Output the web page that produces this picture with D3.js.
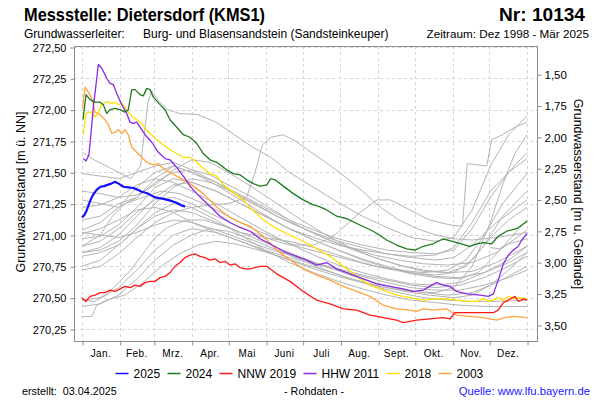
<!DOCTYPE html>
<html><head><meta charset="utf-8">
<script src="https://cdn.jsdelivr.net/npm/d3@7"></script>
<style>body{margin:0;background:#fff}svg{display:block;font-family:"Liberation Sans",Arial,sans-serif}</style>
</head><body><svg id="c" width="600" height="400"></svg>
<script>
// ---------- DATA ----------
const monthNames = ["Jan.","Feb.","Mrz.","Apr.","Mai","Juni","Juli","Aug.","Sept.","Okt.","Nov.","Dez."];
const monthStarts = [0,31,59,90,120,151,181,212,243,273,304,334,365];
const levelTicks = [270.25,270.5,270.75,271.0,271.25,271.5,271.75,272.0,272.25,272.5];
const depthTicks = [1.5,1.75,2.0,2.25,2.5,2.75,3.0,3.25,3.5];
const groundLevel = 273.783;
const legendLabels = ["2025","2024","NNW 2019","HHW 2011","2018","2003"];
const legendColors = ["#1010ff","#1f7a1f","#ff1a1a","#8a2be2","#ffdd00","#ffa440"];

// series as [dayOfYear, level m ü. NN]
const s2025 = [[0,271.14],[2,271.16],[4,271.20],[7,271.28],[9,271.32],[12,271.36],[15,271.385],[18,271.39],[21,271.40],[24,271.41],[27,271.425],[30,271.41],[34,271.385],[38,271.38],[42,271.375],[46,271.36],[49,271.345],[53,271.335],[56,271.32],[60,271.30],[63,271.295],[66,271.29],[70,271.28],[74,271.27],[78,271.255],[81,271.24],[84.5,271.226]];
const s2024 = [[0.8,271.92],[3.3,272.12],[6.6,272.08],[10.7,272.06],[14.8,272.06],[17.5,272.04],[20.3,271.97],[23,272.0],[27,272.01],[31.2,272.0],[35.3,271.98],[38,272.0],[40.8,272.16],[43.5,272.16],[47.6,272.12],[50.3,272.11],[53.1,272.17],[55.8,272.16],[58.5,272.10],[64,272.04],[68.1,272.0],[72.2,271.92],[77.7,271.86],[83.1,271.80],[88.6,271.78],[94.1,271.73],[99.5,271.65],[105,271.60],[110.5,271.58],[114.6,271.55],[118.7,271.52],[124.1,271.49],[129.6,271.48],[135.1,271.44],[140.5,271.41],[146,271.39],[151.5,271.40],[154.8,271.45],[158.3,271.44],[165.1,271.39],[173.3,271.33],[181.5,271.28],[189.7,271.24],[193.8,271.23],[200.7,271.20],[208.9,271.15],[217.1,271.13],[228,271.08],[238.9,271.03],[249.9,270.96],[258.1,270.92],[266.3,270.89],[273.1,270.88],[279.9,270.91],[288.1,270.93],[296.3,270.97],[307.3,270.94],[318.2,270.91],[323.7,270.93],[329.1,270.94],[336,270.93],[341.4,270.99],[348.3,271.03],[356.5,271.05],[365,271.11]];
const s2019 = [[0,270.50],[3.3,270.47],[6.6,270.51],[10.7,270.52],[14.8,270.54],[18.9,270.54],[23,270.56],[27.1,270.55],[31.2,270.57],[35.3,270.59],[39.4,270.58],[43.5,270.60],[47.6,270.59],[51.7,270.62],[55.8,270.63],[59.9,270.63],[64,270.66],[68.1,270.67],[72.2,270.70],[76.3,270.75],[80.4,270.78],[84.5,270.82],[88.6,270.84],[92.7,270.85],[96.8,270.83],[100.9,270.82],[105,270.80],[109.1,270.81],[113.2,270.78],[117.3,270.79],[121.4,270.76],[125.5,270.77],[129.6,270.74],[133.7,270.73],[137.8,270.73],[146,270.75],[151.5,270.75],[159.7,270.69],[170.6,270.63],[181.5,270.55],[192.5,270.48],[203.4,270.45],[214.3,270.41],[225.3,270.40],[236.2,270.36],[247.1,270.34],[258.1,270.32],[263.5,270.30],[274.5,270.32],[285.4,270.33],[296.3,270.34],[301.8,270.33],[305.9,270.38],[315.5,270.38],[326.4,270.38],[337.4,270.38],[341.4,270.40],[345.6,270.46],[349.7,270.48],[355.2,270.51],[357.9,270.47],[362,270.49],[365,270.48]];
const s2011 = [[1.1,271.61],[3.3,271.59],[5.7,271.64],[7.1,271.78],[9.3,272.02],[11.5,272.20],[13.4,272.36],[16.2,272.33],[20.3,272.25],[23,272.21],[25.7,272.20],[28.5,272.13],[32.6,272.04],[36.7,271.97],[39.4,271.90],[42.1,271.89],[44.9,271.90],[47.6,271.86],[51.7,271.80],[57.2,271.74],[62.6,271.66],[68.1,271.61],[72.2,271.60],[77.7,271.54],[83.1,271.47],[88.6,271.39],[94.1,271.33],[99.5,271.28],[105,271.23],[113.2,271.15],[121.4,271.10],[129.6,271.06],[137.8,271.03],[146,270.97],[154.2,270.93],[165.1,270.87],[173.3,270.84],[184.3,270.80],[192.5,270.76],[200.7,270.78],[208.9,270.73],[219.8,270.69],[230.7,270.65],[241.7,270.61],[252.6,270.59],[263.5,270.57],[271.7,270.55],[279.9,270.56],[286.8,270.60],[290.9,270.62],[296.3,270.60],[301.8,270.59],[307.3,270.55],[315.5,270.53],[326.4,270.52],[333.3,270.51],[337.4,270.53],[341.4,270.64],[345.6,270.77],[349.7,270.84],[353.8,270.88],[357.9,270.91],[360.7,270.96],[365,271.01]];
const s2018 = [[1.1,271.80],[3.3,271.97],[5.2,271.98],[8,271.98],[10.7,271.94],[13.4,271.98],[16.2,272.04],[18.9,272.06],[21.6,272.06],[24.4,272.05],[27.1,272.06],[29.8,272.04],[32.6,272.05],[35.3,272.02],[38,271.98],[40.8,271.95],[44.9,271.92],[49,271.89],[51.7,271.85],[55.8,271.81],[61.3,271.76],[66.7,271.72],[72.2,271.68],[77.7,271.65],[83.1,271.62],[88.6,271.62],[94.1,271.58],[99.5,271.53],[105,271.49],[110.5,271.47],[115.9,271.40],[121.4,271.36],[126.9,271.32],[132.3,271.28],[137.8,271.22],[148.7,271.12],[159.7,271.05],[170.6,271.00],[181.5,270.95],[192.5,270.89],[203.4,270.83],[214.3,270.75],[225.3,270.67],[236.2,270.60],[247.1,270.56],[258.1,270.52],[269,270.50],[279.9,270.48],[290.9,270.49],[299.1,270.49],[307.3,270.48],[315.5,270.47],[323.7,270.47],[329.1,270.49],[334.6,270.47],[341.4,270.50],[345.6,270.48],[349.7,270.51],[355.2,270.49],[359.2,270.50],[365,270.49]];
const s2003 = [[0.4,272.01],[2.5,272.18],[5.2,272.14],[8,272.09],[10.7,271.98],[14.8,271.96],[18.9,271.92],[21.6,271.88],[24.4,271.81],[27.1,271.82],[29.8,271.84],[32.6,271.81],[35.3,271.84],[38,271.80],[40.8,271.70],[44.9,271.66],[49,271.62],[53.1,271.58],[58.5,271.56],[62.6,271.57],[66.7,271.53],[72.2,271.50],[77.7,271.47],[83.1,271.44],[91.3,271.39],[99.5,271.33],[107.7,271.25],[113.2,271.20],[121.4,271.14],[129.6,271.10],[137.8,271.07],[148.7,270.99],[159.7,270.88],[170.6,270.80],[181.5,270.73],[192.5,270.68],[203.4,270.64],[214.3,270.59],[225.3,270.55],[236.2,270.51],[247.1,270.44],[258.1,270.41],[269,270.40],[274.5,270.39],[279.9,270.41],[288.1,270.40],[299.1,270.41],[307.3,270.36],[318.2,270.35],[329.1,270.34],[340.1,270.32],[346.9,270.34],[353.8,270.35],[365,270.34]];

// other years (grey)
const g1998 = [[335,270.90],[342,270.89],[350,270.93],[358,270.95],[365,270.97]];
const g1999 = [[0,270.97],[15,270.99],[30,271.08],[45,271.22],[60,271.38],[75,271.45],[90,271.42],[110,271.35],[130,271.25],[150,271.15],[170,271.05],[190,270.96],[210,270.88],[230,270.80],[250,270.74],[270,270.69],[290,270.66],[310,270.65],[325,270.70],[340,270.85],[352,270.98],[365,271.12]];
const g2000 = [[0,271.12],[15,271.15],[30,271.25],[45,271.30],[60,271.42],[75,271.50],[90,271.52],[105,271.48],[120,271.40],[140,271.30],[160,271.18],[180,271.06],[200,270.97],[220,270.90],[240,270.84],[260,270.80],[280,270.77],[300,270.76],[320,270.78],[340,270.86],[365,271.04]];
const g2001 = [[0,271.04],[15,271.10],[30,271.22],[45,271.38],[60,271.50],[75,271.55],[90,271.50],[110,271.42],[130,271.32],[150,271.22],[170,271.12],[190,271.04],[210,270.97],[230,270.92],[250,270.88],[270,270.86],[290,270.85],[305,270.88],[320,271.05],[335,271.30],[350,271.50],[365,271.66]];
const g2002 = [[0,271.66],[10,271.60],[20,271.55],[30,271.50],[40,271.45],[48,271.55],[54,272.05],[57,272.15],[62,272.08],[70,272.00],[80,271.97],[95,271.96],[110,271.90],[125,271.80],[140,271.70],[155,271.62],[170,271.50],[190,271.38],[210,271.26],[230,271.15],[250,271.06],[270,270.98],[290,270.95],[305,270.98],[320,271.20],[335,271.55],[350,271.80],[365,271.95]];
const g2004 = [[0,270.35],[8,270.35],[12,270.44],[20,270.48],[35,270.52],[50,270.62],[65,270.75],[80,270.85],[95,270.92],[110,270.95],[125,270.93],[145,270.88],[165,270.82],[185,270.76],[205,270.70],[225,270.64],[245,270.59],[265,270.55],[285,270.52],[305,270.50],[320,270.52],[335,270.60],[350,270.72],[365,270.86]];
const g2005 = [[0,270.86],[15,270.88],[30,270.95],[45,271.08],[60,271.25],[75,271.38],[90,271.45],[105,271.42],[120,271.36],[140,271.26],[160,271.15],[180,271.06],[200,270.97],[220,270.89],[240,270.82],[260,270.76],[280,270.71],[300,270.70],[315,270.75],[330,270.92],[345,271.15],[365,271.35]];
const g2006 = [[0,271.35],[15,271.33],[30,271.30],[45,271.32],[60,271.40],[75,271.52],[90,271.60],[105,271.58],[120,271.50],[140,271.38],[160,271.25],[180,271.12],[200,271.00],[220,270.90],[240,270.82],[260,270.76],[280,270.72],[300,270.70],[320,270.71],[340,270.78],[365,270.91]];
const g2007 = [[0,270.91],[15,271.00],[25,271.15],[35,271.25],[50,271.30],[65,271.35],[80,271.33],[100,271.25],[120,271.15],[140,271.05],[160,270.97],[180,270.90],[200,270.85],[220,270.80],[240,270.75],[260,270.72],[280,270.70],[300,270.72],[315,270.80],[330,271.00],[345,271.25],[365,271.49]];
const g2008 = [[0,271.49],[15,271.47],[30,271.45],[45,271.50],[60,271.55],[75,271.58],[90,271.52],[110,271.42],[130,271.30],[150,271.20],[170,271.10],[190,271.02],[210,270.95],[230,270.90],[250,270.85],[270,270.82],[290,270.80],[305,270.82],[320,270.92],[340,271.10],[365,271.28]];
const g2009 = [[0,271.28],[15,271.25],[30,271.22],[45,271.30],[60,271.45],[75,271.55],[90,271.50],[110,271.40],[130,271.28],[150,271.16],[170,271.05],[190,270.96],[210,270.88],[230,270.81],[250,270.75],[270,270.70],[290,270.67],[310,270.66],[330,270.70],[350,270.78],[365,270.86]];
const g2010 = [[0,270.86],[15,270.90],[30,271.00],[45,271.15],[60,271.30],[75,271.40],[90,271.42],[110,271.35],[130,271.25],[150,271.15],[170,271.05],[190,270.98],[210,270.92],[230,270.88],[250,270.85],[270,270.83],[290,270.84],[305,270.90],[320,271.10],[335,271.35],[350,271.50],[365,271.61]];
const g2012 = [[0,271.01],[15,271.05],[30,271.12],[45,271.20],[60,271.22],[75,271.18],[90,271.10],[110,271.02],[130,270.95],[150,270.88],[170,270.82],[190,270.77],[210,270.72],[230,270.67],[250,270.62],[270,270.58],[290,270.56],[310,270.56],[330,270.60],[350,270.66],[365,270.72]];
const g2013 = [[0,270.72],[15,270.75],[30,270.85],[45,270.98],[60,271.10],[75,271.18],[90,271.22],[105,271.24],[120,271.25],[135,271.30],[142,271.50],[148,271.72],[155,271.78],[165,271.80],[175,271.75],[185,271.68],[200,271.58],[215,271.47],[230,271.35],[245,271.22],[260,271.12],[275,271.05],[290,271.00],[305,270.97],[320,270.96],[340,270.98],[365,271.02]];
const g2014 = [[0,271.02],[15,271.00],[30,270.98],[45,271.02],[60,271.08],[75,271.12],[90,271.10],[110,271.04],[130,270.97],[150,270.90],[170,270.84],[190,270.78],[210,270.73],[230,270.68],[250,270.64],[270,270.60],[290,270.58],[310,270.60],[330,270.66],[350,270.75],[365,270.83]];
const g2015 = [[0,270.83],[15,270.86],[30,270.92],[45,271.05],[60,271.18],[75,271.25],[90,271.22],[110,271.12],[130,271.00],[150,270.88],[170,270.78],[190,270.70],[210,270.63],[230,270.57],[250,270.52],[270,270.48],[290,270.46],[310,270.44],[330,270.43],[350,270.43],[365,270.43]];
const g2016 = [[0,270.43],[15,270.45],[30,270.52],[45,270.65],[60,270.80],[75,270.92],[90,271.00],[105,271.05],[120,271.03],[140,270.96],[160,270.88],[180,270.80],[200,270.72],[220,270.65],[240,270.59],[260,270.54],[280,270.50],[300,270.48],[320,270.47],[340,270.47],[365,270.48]];
const g2017 = [[0,270.48],[15,270.50],[30,270.58],[45,270.72],[60,270.88],[75,271.00],[90,271.05],[110,271.02],[130,270.95],[150,270.87],[170,270.80],[190,270.73],[210,270.67],[230,270.62],[250,270.58],[270,270.55],[290,270.54],[305,270.58],[320,270.75],[335,271.10],[345,271.40],[355,271.65],[365,271.80]];
const g2020 = [[0,270.48],[10,270.47],[20,270.52],[30,270.62],[40,270.72],[50,270.85],[60,270.98],[70,271.06],[85,271.12],[100,271.12],[120,271.06],[140,270.98],[160,270.90],[180,270.82],[200,270.75],[220,270.68],[240,270.62],[260,270.57],[280,270.54],[300,270.52],[320,270.54],[340,270.62],[365,270.75]];
const g2021 = [[0,270.75],[15,270.80],[30,270.92],[45,271.05],[60,271.15],[75,271.20],[90,271.18],[110,271.10],[130,271.02],[150,270.98],[170,270.95],[190,270.90],[210,270.84],[230,270.78],[250,270.73],[270,270.70],[290,270.68],[305,270.70],[320,270.80],[335,270.98],[350,271.12],[365,271.22]];
const g2022 = [[0,271.22],[15,271.24],[30,271.30],[45,271.40],[60,271.45],[75,271.42],[90,271.35],[110,271.25],[130,271.14],[150,271.03],[170,270.93],[190,270.84],[210,270.76],[230,270.70],[250,270.65],[270,270.61],[290,270.60],[310,270.62],[330,270.70],[350,270.80],[365,270.91]];
const g2023 = [[0,270.91],[15,270.95],[30,271.05],[45,271.18],[60,271.28],[75,271.30],[90,271.25],[110,271.15],[130,271.06],[150,270.98],[170,270.92],[190,270.92],[205,270.98],[212,271.04],[228,271.18],[242,271.28],[253,271.28],[269,271.20],[285,271.12],[302,271.08],[312,271.07],[316,271.57],[332,271.55],[336,271.76],[345,271.80],[355,271.86],[365,271.90]];

const greySeries = [g1998,g1999,g2000,g2001,g2002,g2004,g2005,g2006,g2007,g2008,g2009,g2010,g2012,g2013,g2014,g2015,g2016,g2017,g2020,g2021,g2022,g2023];
const colorSeries = [s2003,s2018,s2011,s2019,s2024,s2025]; // drawn bottom to top
const colorIdx = [5,4,3,2,1,0];

// ---------- CHART ----------
const L=74,R=537,T=46,B=341;
const svg = d3.select("#c");
const x = d3.scaleLinear().domain([0,365]).range([82,527]);
const y = d3.scaleLinear().domain([270.25,272.5]).range([329,47]);
const yDepth = d3.scaleLinear().domain([groundLevel-270.25, groundLevel-272.5]).range([329,47]);
const fmt = d => d3.format(".2f")(d).replace(".",",");

svg.append("defs").append("clipPath").attr("id","clip")
  .append("rect").attr("x",L).attr("y",T).attr("width",R-L).attr("height",B-T);

// grid
const grid = svg.append("g").attr("stroke","#d4d4d4").attr("stroke-dasharray","3,3").attr("stroke-width",1);
grid.selectAll(".h").data(levelTicks).join("line")
  .attr("x1",L).attr("x2",R).attr("y1",d=>Math.round(y(d))+0.5).attr("y2",d=>Math.round(y(d))+0.5);
grid.selectAll(".v").data(monthStarts).join("line")
  .attr("y1",T).attr("y2",B).attr("x1",d=>Math.round(x(d))+0.5).attr("x2",d=>Math.round(x(d))+0.5);

// lines
const line = d3.line().x(d=>x(d[0])).y(d=>y(d[1]));
const plot = svg.append("g").attr("clip-path","url(#clip)");
plot.selectAll(".grey").data(greySeries).join("path")
  .attr("d",line).attr("fill","none").attr("stroke","#b4b4b4").attr("stroke-width",1);
plot.selectAll(".col").data(colorSeries).join("path")
  .attr("d",line).attr("fill","none")
  .attr("stroke",(d,i)=>legendColors[colorIdx[i]])
  .attr("stroke-width",(d,i)=>colorIdx[i]===0?2.2:1.3)
  .attr("stroke-linejoin","round");

// frame
svg.append("rect").attr("x",L+0.5).attr("y",T+0.5).attr("width",R-L).attr("height",B-T)
  .attr("fill","none").attr("stroke","#8c8c8c").attr("stroke-width",1);

// axes
const axL = svg.append("g").attr("transform",`translate(${L+0.5},0.5)`)
  .call(d3.axisLeft(y).tickValues(levelTicks).tickFormat(fmt).tickSize(4).tickPadding(4));
const axR = svg.append("g").attr("transform",`translate(${R+0.5},0.5)`)
  .call(d3.axisRight(yDepth).tickValues(depthTicks).tickFormat(fmt).tickSize(4).tickPadding(3));
const axB = svg.append("g").attr("transform",`translate(0.5,${B+0.5})`)
  .call(d3.axisBottom(x).tickValues(monthStarts).tickFormat("").tickSize(4));
[axL,axR,axB].forEach(a=>{
  a.select(".domain").remove();
  a.selectAll(".tick line").attr("stroke","#8c8c8c");
  a.selectAll("text").attr("fill","#000").style("font-family","'Liberation Sans',Arial,sans-serif");
});
axL.selectAll("text").style("font-size","11px");
axR.selectAll("text").style("font-size","11.5px");

// month labels
svg.append("g").selectAll("text").data(monthNames).join("text")
  .attr("x",(d,i)=>x((monthStarts[i]+monthStarts[i+1])/2))
  .attr("y",357).attr("text-anchor","middle")
  .style("font-size","10px").style("letter-spacing","0.4px").text(d=>d);

// axis titles
svg.append("text").attr("transform","translate(21,192) rotate(-90)")
  .attr("text-anchor","middle").attr("dy","0.35em").style("font-size","12.5px")
  .text("Grundwasserstand [m ü. NN]");
svg.append("text").attr("transform","translate(578,194) rotate(90)")
  .attr("text-anchor","middle").attr("dy","0.35em").style("font-size","12.5px")
  .text("Grundwasserstand [m u. Gelände]");

// titles
svg.append("text").attr("x",24).attr("y",21).style("font-size","18px").style("font-weight","bold")
  .attr("textLength",241).attr("lengthAdjust","spacingAndGlyphs")
  .text("Messstelle: Dietersdorf (KMS1)");
svg.append("text").attr("x",499).attr("y",21).style("font-size","18px").style("font-weight","bold")
  .attr("textLength",86).attr("lengthAdjust","spacingAndGlyphs")
  .text("Nr: 10134");
svg.append("text").attr("x",24).attr("y",38).style("font-size","12px").text("Grundwasserleiter:");
svg.append("text").attr("x",143).attr("y",38).style("font-size","12px").text("Burg- und Blasensandstein (Sandsteinkeuper)");
svg.append("text").attr("x",589).attr("y",38).attr("text-anchor","end").style("font-size","11.7px").text("Zeitraum: Dez 1998 - Mär 2025");

// legend
const lg = svg.append("g");
let lx = 115.5;
legendLabels.forEach((lab,i)=>{
  lg.append("line").attr("x1",lx).attr("x2",lx+13).attr("y1",373.5).attr("y2",373.5)
    .attr("stroke",legendColors[i]).attr("stroke-width",1.5);
  const t = lg.append("text").attr("x",lx+18).attr("y",378).style("font-size","12px").text(lab);
  lx += 18 + t.node().getComputedTextLength() + 7.3;
});

// footer
svg.append("text").attr("x",22).attr("y",395).style("font-size","10.8px").text("erstellt:  03.04.2025").attr("xml:space","preserve").style("white-space","pre");
svg.append("text").attr("x",314).attr("y",395).attr("text-anchor","middle").style("font-size","10.8px").text("- Rohdaten -");
svg.append("text").attr("x",590).attr("y",395).attr("text-anchor","end").style("font-size","11.3px").attr("fill","#2020ff").text("Quelle: www.lfu.bayern.de");
</script></body></html>
